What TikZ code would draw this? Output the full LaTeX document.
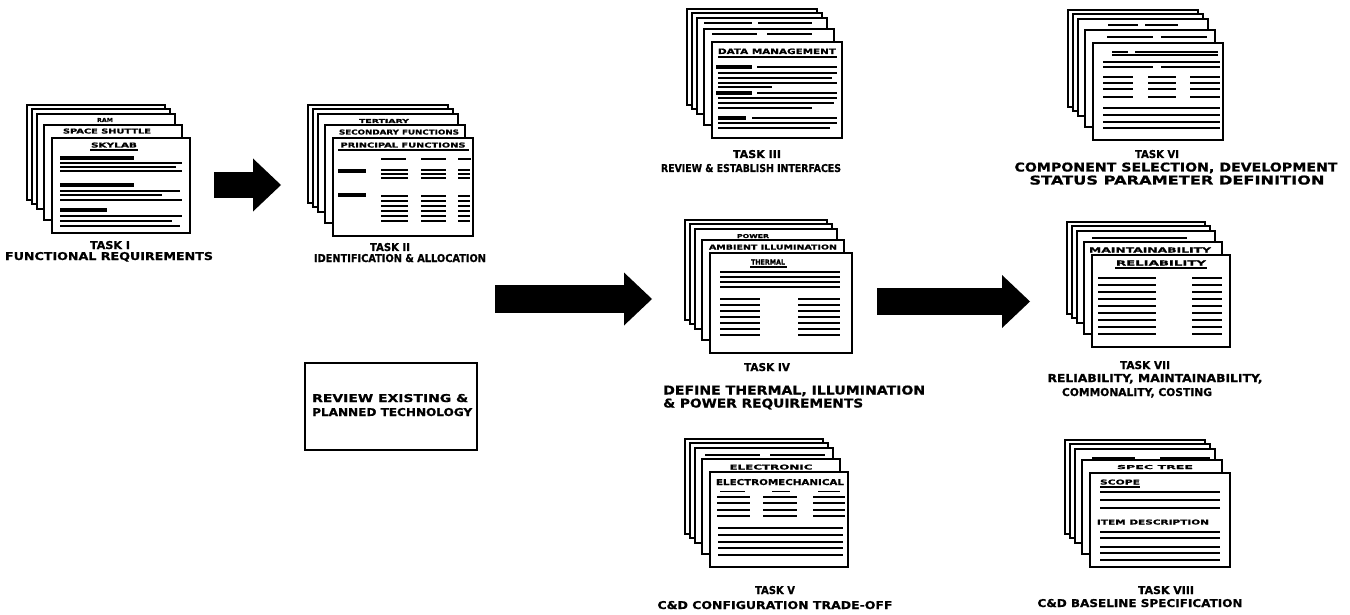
\documentclass[tikz,border=0pt]{standalone}
\usepackage{fontspec}
\usepackage{graphicx}
\usetikzlibrary{arrows.meta}
\newfontfamily\lf{DejaVu Sans}[FakeBold=0.8]
\newcommand{\ft}[3]{\resizebox{#1pt}{#2pt}{\lf\bfseries #3}}
% card title: name, x (base center), y (baseline), width, cap height, text
\newcommand{\ttl}[6]{\node[inner sep=0pt,anchor=base] (#1) at (#2,#3) {\ft{#4}{#5}{#6}};}
\newcommand{\docstack}[4]{%
  \foreach \dx/\dy in {-25/-33,-20/-29,-15/-24,-8/-13,0/0}{%
    \filldraw[cardbox] ({#1+\dx},{#2+\dy}) rectangle ++(#3,#4);}}
\tikzset{
  cardbox/.style={draw=black,fill=white,line width=1.4pt},
  tl/.style={line width=1.3pt},
  hb/.style={line width=3.2pt},
  ul/.style={line width=1.3pt},
  lab/.style={inner sep=0pt,anchor=base},
  labw/.style={inner sep=0pt,anchor=base west},
  blockarrow/.style={line width=#1,-{Triangle[length=28pt,width=53pt,line width=0pt]}},
}
\begin{document}
\begin{tikzpicture}[x=1pt,y=-1pt]
\useasboundingbox (0,0) rectangle (1350,615);
\fill[white] (0,0) rectangle (1350,615);

% ---------- TASK I ----------
\docstack{52}{138}{138}{95}
\begin{scope}[shift={(52,138)}]
  \ttl{t1c}{53}{-16}{16}{4}{RAM}
  \ttl{t1d}{55}{-4.5}{88}{5}{SPACE SHUTTLE}
  \ttl{t1e}{62}{9.5}{46}{5}{SKYLAB}
  \draw[ul] (38,12) -- (86,12);
  \draw[hb] (8,20) -- (82,20);
  \foreach \y/\e in {25/130,29/124,33/130} \draw[tl] (8,\y) -- (\e,\y);
  \draw[hb] (8,47) -- (82,47);
  \foreach \y/\e in {53/128,57/110,62/130} \draw[tl] (8,\y) -- (\e,\y);
  \draw[hb] (8,72) -- (55,72);
  \foreach \y/\e in {78/130,83/120,88/128} \draw[tl] (8,\y) -- (\e,\y);
\end{scope}
\node[lab] (l1a) at (110,249) {\ft{40}{8}{TASK I}};
\node[lab] (l1b) at (109,260) {\ft{208}{8}{FUNCTIONAL REQUIREMENTS}};

% ---------- TASK II ----------
\docstack{333}{138}{140}{98}
\begin{scope}[shift={(333,138)}]
  \ttl{t2c}{51}{-15}{50}{4}{TERTIARY}
  \ttl{t2d}{66}{-3.5}{120}{5}{SECONDARY FUNCTIONS}
  \ttl{t2e}{70}{9.5}{125}{5}{PRINCIPAL FUNCTIONS}
  \draw[ul] (5,12) -- (136,12);
  \foreach \a/\b in {48/73,88/113,125/138} \draw[line width=2.4pt] (\a,21) -- (\b,21);
  \draw[hb] (5,33) -- (33,33);
  \draw[hb] (5,57) -- (33,57);
  \foreach \a/\b in {48/75,88/113,125/137}{
    \foreach \y in {32,36,40} \draw[tl] (\a,\y) -- (\b,\y);
    \foreach \y in {58,63,68,73,78,83} \draw[tl] (\a,\y) -- (\b,\y);
  }
\end{scope}
\node[lab] (l2a) at (390,251) {\ft{40}{8}{TASK II}};
\node[lab] (l2b) at (400,262) {\ft{172}{8}{IDENTIFICATION \& ALLOCATION}};

% ---------- review box ----------
\node[draw,line width=1.5pt,minimum width=172pt,minimum height=87pt,inner sep=0pt] (rev) at (391,406.5) {};
\node[labw] (rv1) at (312,402) {\ft{156}{8}{REVIEW EXISTING \&}};
\node[labw] (rv2) at (312,416) {\ft{160}{8}{PLANNED TECHNOLOGY}};

% ---------- TASK III ----------
\docstack{712}{42}{130}{96}
\begin{scope}[shift={(712,42)}]
  \draw[line width=2.6pt] (-8,-19) -- (40,-19) (46,-19) -- (100,-19);
  \draw[line width=2.6pt] (0,-8) -- (45,-8) (55,-8) -- (100,-8);
  \ttl{t3e}{65}{12}{118}{5.5}{DATA MANAGEMENT}
  \draw[ul] (6,15) -- (125,15);
  \draw[hb] (4,25) -- (40,25);
  \draw[tl] (45,25) -- (125,25);
  \foreach \y/\e in {31/125,36/120,41/125,45/60} \draw[tl] (6,\y) -- (\e,\y);
  \draw[hb] (4,51) -- (40,51);
  \draw[tl] (45,51) -- (125,51);
  \foreach \y/\e in {56/125,61/122,66/100} \draw[tl] (6,\y) -- (\e,\y);
  \draw[hb] (6,76) -- (34,76);
  \draw[tl] (40,76) -- (125,76);
  \foreach \y/\e in {81/125,86/118} \draw[tl] (6,\y) -- (\e,\y);
\end{scope}
\node[lab] (l3a) at (757,158) {\ft{48}{8}{TASK III}};
\node[lab] (l3b) at (751,172) {\ft{180}{8}{REVIEW \& ESTABLISH INTERFACES}};

% ---------- TASK IV ----------
\docstack{710}{253}{142}{100}
\begin{scope}[shift={(710,253)}]
  \ttl{t4c}{43}{-15}{32}{4}{POWER}
  \ttl{t4d}{63}{-3.5}{128}{5}{AMBIENT ILLUMINATION}
  \ttl{t4e}{58}{11.5}{34}{5}{THERMAL}
  \draw[ul] (40,14) -- (77,14);
  \foreach \y in {19,24,29,34} \draw[tl] (10,\y) -- (130,\y);
  \foreach \y in {46,52,58,64,70,76,82} {
    \draw[tl] (10,\y) -- (50,\y);
    \draw[tl] (88,\y) -- (130,\y);
  }
\end{scope}
\node[lab] (l4a) at (767,371) {\ft{46}{8}{TASK IV}};
\node[labw] (l4b) at (663,394.5) {\ft{262}{9}{DEFINE THERMAL, ILLUMINATION}};
\node[labw] (l4c) at (663,407.5) {\ft{200}{9}{\& POWER REQUIREMENTS}};

% ---------- TASK V ----------
\docstack{710}{472}{138}{95}
\begin{scope}[shift={(710,472)}]
  \draw[line width=2.6pt] (-5,-17) -- (50,-17) (60,-17) -- (115,-17);
  \ttl{t5d}{61}{-2.5}{83}{5}{ELECTRONIC}
  \ttl{t5e}{70}{13}{128}{6}{ELECTROMECHANICAL}
  \foreach \a/\b in {10/35,62/80,108/130} \draw[line width=0.8pt] (\a,19) -- (\b,19);
  \foreach \a/\b in {7/40,53/87,103/135}
    \foreach \y in {25,31,38,44} \draw[tl] (\a,\y) -- (\b,\y);
  \foreach \y in {56,63,70,76,83} \draw[tl] (8,\y) -- (133,\y);
\end{scope}
\node[lab] (l5a) at (775,594) {\ft{40}{8}{TASK V}};
\node[lab] (l5b) at (775,609) {\ft{235}{8}{C\&D CONFIGURATION TRADE-OFF}};

% ---------- TASK VI ----------
\docstack{1093}{43}{130}{97}
\begin{scope}[shift={(1093,43)}]
  \draw[line width=2.4pt] (15,-18) -- (45,-18) (52,-18) -- (85,-18);
  \draw[line width=2.6pt] (14,-6) -- (60,-6) (68,-6) -- (114,-6);
  \draw[line width=2.6pt] (19,9) -- (35,9) (42,9) -- (125,9);
  \draw[ul] (19,12) -- (125,12);
  \draw[tl] (10,19) -- (127,19);
  \draw[tl] (10,24) -- (60,24) (68,24) -- (127,24);
  \foreach \a/\b in {10/40,55/83,97/127}
    \foreach \y in {34,40,46,54} \draw[tl] (\a,\y) -- (\b,\y);
  \foreach \y in {65,72,79,85} \draw[tl] (10,\y) -- (127,\y);
\end{scope}
\node[lab] (l6a) at (1157,158) {\ft{44}{8}{TASK VI}};
\node[lab] (l6b) at (1176,171.5) {\ft{323}{9}{COMPONENT SELECTION, DEVELOPMENT}};
\node[lab] (l6c) at (1177,184.5) {\ft{295}{9}{STATUS PARAMETER DEFINITION}};

% ---------- TASK VII ----------
\docstack{1092}{255}{138}{92}
\begin{scope}[shift={(1092,255)}]
  \draw[line width=2.4pt] (0,-17) -- (95,-17);
  \ttl{t7d}{58}{-2.5}{122}{5}{MAINTAINABILITY}
  \ttl{t7e}{69}{10.5}{90}{5}{RELIABILITY}
  \draw[ul] (23,13) -- (115,13);
  \foreach \y in {23,30,37,44,51,58,65,72,79} {
    \draw[tl] (6,\y) -- (64,\y);
    \draw[tl] (100,\y) -- (130,\y);
  }
\end{scope}
\node[lab] (l7a) at (1145,369) {\ft{50}{8}{TASK VII}};
\node[lab] (l7b) at (1155,382) {\ft{215}{8}{RELIABILITY, MAINTAINABILITY,}};
\node[lab] (l7c) at (1137,396) {\ft{150}{8}{COMMONALITY, COSTING}};

% ---------- TASK VIII ----------
\docstack{1090}{473}{140}{94}
\begin{scope}[shift={(1090,473)}]
  \draw[line width=2.4pt] (2,-15) -- (45,-15) (70,-15) -- (120,-15);
  \ttl{t8d}{65}{-4}{76}{4}{SPEC TREE}
  \ttl{t8e}{30}{11.5}{40}{5}{SCOPE}
  \draw[ul] (10,14) -- (50,14);
  \foreach \y in {19,27,35} \draw[tl] (10,\y) -- (130,\y);
  \ttl{t8f}{63}{51.5}{112}{5}{ITEM DESCRIPTION}
  \foreach \y in {59,65,74,80,87} \draw[tl] (10,\y) -- (130,\y);
\end{scope}
\node[lab] (l8a) at (1166,594) {\ft{56}{8}{TASK VIII}};
\node[lab] (l8b) at (1140,607) {\ft{205}{8}{C\&D BASELINE SPECIFICATION}};

% ---------- block arrows ----------
\coordinate (a1s) at (214,185);  \coordinate (a1e) at (281,185);
\coordinate (a2s) at (495,299);  \coordinate (a2e) at (652,299);
\coordinate (a3s) at (877,301.5); \coordinate (a3e) at (1030,301.5);
\draw[blockarrow=26pt] (a1s) -- (a1e);
\draw[blockarrow=28pt] (a2s) -- (a2e);
\draw[blockarrow=27pt] (a3s) -- (a3e);
\end{tikzpicture}
\end{document}
